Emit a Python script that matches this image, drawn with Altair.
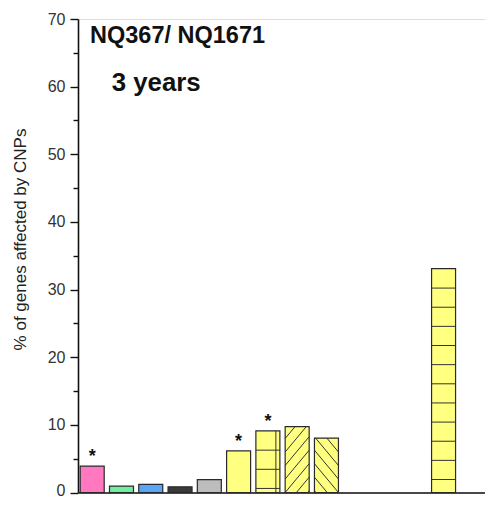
import altair as alt
import pandas as pd

# ---- data ----
slots = [0, 1, 2, 3, 4, 5, 6, 7, 8, 12]
values = [3.9, 0.95, 1.2, 0.85, 1.9, 6.15, 9.1, 9.75, 8.05, 33.1]
fills = ["#ff78c0", "#6ff0a0", "#5aa5f5", "#3a3a3a", "#bdbdbd",
         "#ffff80", "#ffff80", "#ffff80", "#ffff80", "#ffff80"]
patterns = ["", "", "", "", "", "", "grid", "fwd", "back", "hlines"]
stars = [1, 0, 0, 0, 0, 1, 1, 0, 0, 0]
title_text = "NQ367/ NQ1671"
sub_text = "3 years"
y_title = "% of genes affected by CNPs"

# ---- style constants ----
W, H = 407, 473.5
X_DOM = [-0.485, 13.415]
Y_DOM = [0, 70]
PX_X = W / (X_DOM[1] - X_DOM[0])
PX_Y = H / (Y_DOM[1] - Y_DOM[0])
HALF = 12 / PX_X            # half bar width in slot units
H_STEP = 2.83               # spacing of horizontal hatch lines (data units)
D_STEP = 13.5               # vertical spacing of diagonal hatch (px)
D_SLOPE = 1.2

bars = pd.DataFrame({
    "slot": slots, "value": values, "fill": fills,
    "pattern": patterns, "star": stars,
})
bars["x0"] = bars["slot"] - HALF
bars["x1"] = bars["slot"] + HALF
bars["base"] = 0.0

# hatch segments derived from bar rectangles
rows = []
for _, b in bars.iterrows():
    left, right, top = b.x0, b.x1, b.value
    w = (right - left) * PX_X
    h = top * PX_Y
    if b.pattern in ("grid", "hlines"):
        start = 0.6 if b.pattern == "grid" else 1.92
        yv = start
        while yv < top - 0.3:
            rows.append({"x": left, "x2": right, "y": yv, "y2": yv})
            yv += H_STEP
        if b.pattern == "grid":
            xv = right - 4 / PX_X
            rows.append({"x": xv, "x2": xv, "y": 0, "y2": top})
    if b.pattern in ("fwd", "back"):
        for k in range(-20, 20):
            c = k * D_STEP
            xa = max(0.0, -c / D_SLOPE)
            xb = min(w, (h - c) / D_SLOPE)
            if xb - xa < 0.5:
                continue
            ya, yb = c + D_SLOPE * xa, c + D_SLOPE * xb
            if b.pattern == "back":
                xa, xb = w - xa, w - xb
            rows.append({"x": left + xa / PX_X, "x2": left + xb / PX_X,
                         "y": ya / PX_Y, "y2": yb / PX_Y})
hatch = pd.DataFrame(rows)

xs = alt.Scale(domain=X_DOM, nice=False, zero=False)
ys = alt.Scale(domain=Y_DOM, nice=False)

FONT = "Liberation Sans"

x_axis = alt.Axis(labels=False, ticks=False, title=None, grid=False,
                  domainColor="#111", domainWidth=1.6)
y_axis = alt.Axis(
    values=list(range(0, 75, 5)),
    labelExpr="datum.value % 10 === 0 ? datum.label : ''",
    tickSize={"condition": {"test": "datum.value % 10 === 0", "value": 8}, "value": 5},
    labelOffset={"condition": {"test": "datum.value === 0", "value": -2.5}, "value": 0},
    tickColor="#111", tickWidth=1.4,
    domainColor="#111", domainWidth=1.6,
    labelFont=FONT, labelFontSize=16, labelColor="#333", labelPadding=5,
    grid=False,
    title=y_title, titleFont=FONT, titleFontSize=17, titleFontWeight="normal",
    titleColor="#222", titleX=-58, titleY=220, titleAngle=270,
    titleAlign="center", titleBaseline="middle")

bar_layer = alt.Chart(bars).mark_rect(stroke="#2a2a2a", strokeWidth=1.2).encode(
    x=alt.X("x0:Q", scale=xs, axis=x_axis),
    x2="x1:Q",
    y=alt.Y("value:Q", scale=ys, axis=y_axis),
    y2="base:Q",
    color=alt.Color("fill:N", scale=None),
)

hatch_layer = alt.Chart(hatch).mark_rule(color="#333", strokeWidth=1).encode(
    x=alt.X("x:Q", scale=xs, axis=x_axis),
    x2="x2:Q",
    y=alt.Y("y:Q", scale=ys, axis=y_axis),
    y2="y2:Q",
)

star_layer = alt.Chart(bars).transform_filter("datum.star == 1").mark_text(
    text="*", font=FONT, fontSize=18, fontWeight="bold", dy=-4,
    baseline="alphabetic", color="#111").encode(
    x=alt.X("slot:Q", scale=xs, axis=x_axis),
    y=alt.Y("value:Q", scale=ys, axis=y_axis),
)

t1 = alt.Chart(pd.DataFrame({"t": [title_text]})).mark_text(
    font=FONT, fontSize=23.5, fontWeight="bold", align="left",
    baseline="alphabetic", color="#111").encode(
    x=alt.value(12), y=alt.value(24.3), text="t:N")

t2 = alt.Chart(pd.DataFrame({"t": [sub_text]})).mark_text(
    font=FONT, fontSize=25.8, fontWeight="bold", align="left",
    baseline="alphabetic", color="#111").encode(
    x=alt.value(33.7), y=alt.value(72), text="t:N")

chart = alt.layer(bar_layer, hatch_layer, star_layer, t1, t2).properties(
    width=W, height=H,
    autosize=alt.AutoSizeParams(type="none"),
    padding={"left": 70, "top": 11, "right": 0, "bottom": 5.5},
).configure_view(strokeWidth=0).configure(background="white")

chart.save("out.html", embed_options={"renderer": "svg", "actions": False})
